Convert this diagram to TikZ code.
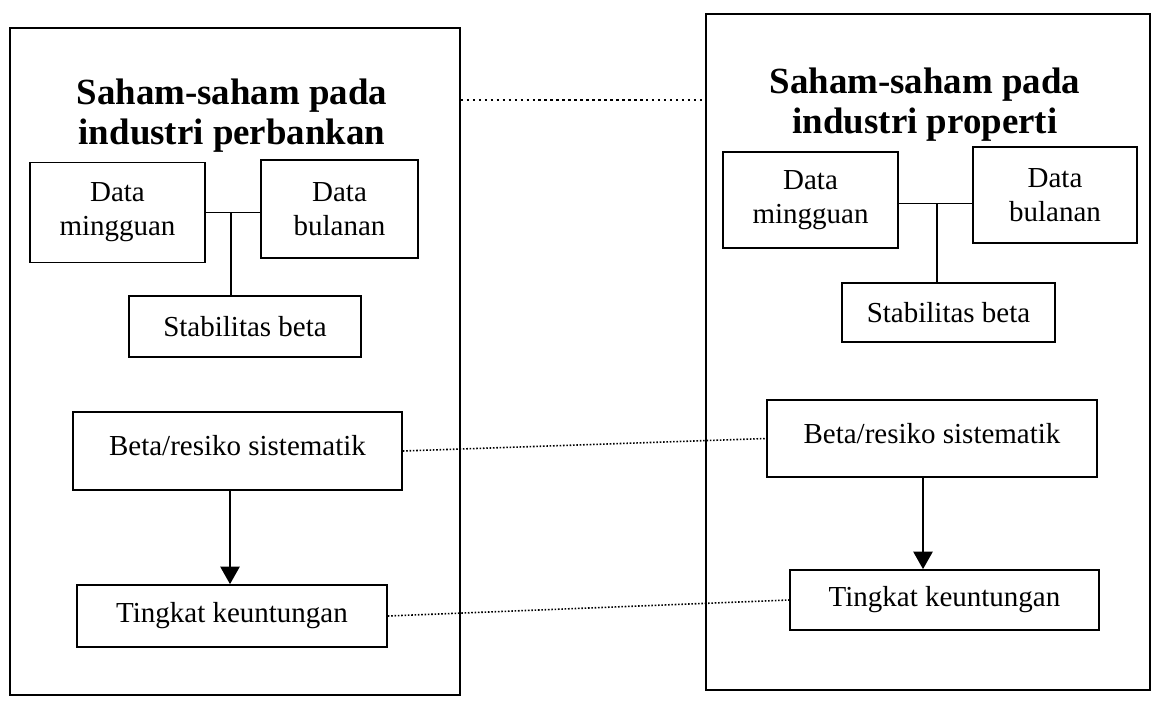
\documentclass[tikz,border=0pt]{standalone}
\usepackage{fontspec}
\setmainfont{Liberation Serif}
\usetikzlibrary{arrows.meta,positioning,calc}

\begin{document}
\begin{tikzpicture}
  [x=0.02cm, y=-0.02cm,
   every node/.style={shape=rectangle, align=center},
   kotak/.style={draw, line width=1pt, inner sep=0pt, font=\fontsize{16.5}{19.5}\selectfont},
   judul/.style={inner sep=0pt, font=\fontsize{21}{22.8}\selectfont\bfseries},
   garisan/.style={line width=0.9pt},
   panah/.style={line width=1pt, -{Triangle[length=10pt,width=11pt]}},
   titik/.style={line width=1.4pt, dotted},
   halus/.style={line width=0.9pt, densely dotted}]
  \useasboundingbox (0,0) rectangle (1159,703);

  \node[kotak, minimum width=9cm, minimum height=13.34cm] (bank) at (235,361.5) {};
  \node[kotak, minimum width=8.88cm, minimum height=13.52cm] (properti) at (928,352) {};

  \node[judul] (jdlBank) at (232,116) {Saham-saham pada\\industri perbankan};
  \node[judul] (jdlProp) at (925,105) {Saham-saham pada\\industri properti};

  \node[kotak, minimum width=3.5cm, minimum height=2cm] (mingBank) at (117.5,212.5) {Data\\mingguan};
  \node[kotak, minimum width=3.14cm, minimum height=1.96cm] (bulanBank) at (339.5,209) {Data\\bulanan};
  \node[kotak, minimum width=4.64cm, minimum height=1.22cm] (stabBank) at (245,326.5) {Stabilitas beta};
  \node[kotak, minimum width=6.58cm, minimum height=1.56cm] (betaBank) at (237.5,451) {\raisebox{6pt}{Beta/resiko sistematik}};
  \node[kotak, minimum width=6.2cm, minimum height=1.24cm] (untungBank) at (232,616) {Tingkat keuntungan};

  \node[kotak, minimum width=3.5cm, minimum height=1.92cm] (mingProp) at (810.5,200) {Data\\mingguan};
  \node[kotak, minimum width=3.28cm, minimum height=1.92cm] (bulanProp) at (1055,195) {Data\\bulanan};
  \node[kotak, minimum width=4.26cm, minimum height=1.18cm] (stabProp) at (948.5,312.5) {Stabilitas beta};
  \node[kotak, minimum width=6.6cm, minimum height=1.54cm] (betaProp) at (932,438.5) {\raisebox{6pt}{Beta/resiko sistematik}};
  \node[kotak, minimum width=6.18cm, minimum height=1.2cm] (untungProp) at (944.5,600) {Tingkat keuntungan};

  \coordinate (simpBank) at ($(mingBank.east)!0.46!(bulanBank.west)$);
  \coordinate (simpProp) at ([yshift=-0.12cm]$(mingProp.east)!0.52!(bulanProp.west)$);
  \draw[garisan] (mingBank.east) -- (mingBank.east -| bulanBank.west);
  \draw[garisan] (simpBank |- mingBank.east) -- (simpBank |- stabBank.north);
  \draw[garisan] (simpProp -| mingProp.east) -- (simpProp -| bulanProp.west);
  \draw[garisan] (simpProp) -- (simpProp |- stabProp.north);

  \coordinate (pBank) at ([xshift=-0.15cm]betaBank.south);
  \coordinate (pProp) at ([xshift=-0.18cm]betaProp.south);
  \draw[panah] (pBank) -- (pBank |- untungBank.north);
  \draw[panah] (pProp) -- (pProp |- untungProp.north);

  \coordinate (garis) at ([yshift=0.32cm]jdlBank.center);
  \draw[titik] (garis -| bank.east) -- (garis -| properti.west);
  \draw[halus] (betaBank.east) -- (betaProp.west);
  \draw[halus] (untungBank.east) -- (untungProp.west);
\end{tikzpicture}
\end{document}
